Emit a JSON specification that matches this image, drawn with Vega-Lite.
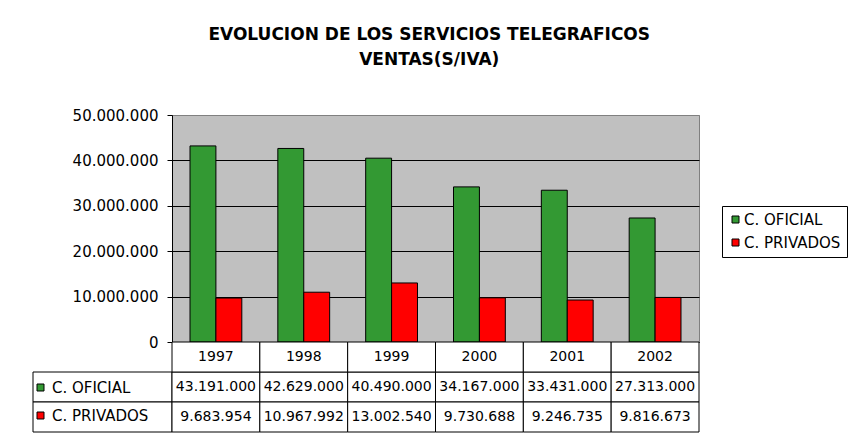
{
  "$schema": "https://vega.github.io/schema/vega-lite/v6.json",
  "background": "white",
  "padding": {"left": 32, "top": 25, "right": 0, "bottom": 0},
  "datasets": {
    "ventas": [
      {"year": "1997", "series": "C. OFICIAL", "value": 43191000},
      {"year": "1998", "series": "C. OFICIAL", "value": 42629000},
      {"year": "1999", "series": "C. OFICIAL", "value": 40490000},
      {"year": "2000", "series": "C. OFICIAL", "value": 34167000},
      {"year": "2001", "series": "C. OFICIAL", "value": 33431000},
      {"year": "2002", "series": "C. OFICIAL", "value": 27313000},
      {"year": "1997", "series": "C. PRIVADOS", "value": 9683954},
      {"year": "1998", "series": "C. PRIVADOS", "value": 10967992},
      {"year": "1999", "series": "C. PRIVADOS", "value": 13002540},
      {"year": "2000", "series": "C. PRIVADOS", "value": 9730688},
      {"year": "2001", "series": "C. PRIVADOS", "value": 9246735},
      {"year": "2002", "series": "C. PRIVADOS", "value": 9816673}
    ]
  },
  "title": {
    "text": ["EVOLUCION DE LOS SERVICIOS TELEGRAFICOS", "VENTAS(S/IVA)"],
    "font": "DejaVu Sans",
    "fontSize": 17,
    "fontWeight": "bold",
    "color": "black",
    "anchor": "middle",
    "dx": -11,
    "lineHeight": 25,
    "offset": 39
  },
  "columns": 2,
  "spacing": 0,
  "bounds": "flush",
  "resolve": {"legend": {"color": "independent"}},
  "concat": [
    {
      "width": 139,
      "height": 227,
      "data": {"values": [{}]},
      "view": {"stroke": null},
      "mark": {"type": "text", "text": ""}
    },
    {
      "width": 527,
      "height": 227,
      "data": {"name": "ventas"},
      "view": {"fill": "#C0C0C0", "stroke": "#808080"},
      "mark": {"type": "bar", "stroke": "black", "strokeWidth": 1},
      "encoding": {
        "x": {"field": "year", "type": "ordinal", "scale": {"paddingInner": 0.41, "paddingOuter": 0.205}, "axis": null},
        "xOffset": {"field": "series", "type": "nominal", "scale": {"domain": ["C. OFICIAL", "C. PRIVADOS"], "paddingInner": 0}},
        "y": {
          "field": "value",
          "type": "quantitative",
          "scale": {"domain": [0, 50000000], "nice": false},
          "axis": {
            "values": [0, 10000000, 20000000, 30000000, 40000000, 50000000],
            "format": ",d",
            "title": null,
            "grid": true,
            "gridColor": {"condition": {"test": "datum.value == 50000000", "value": "#808080"}, "value": "black"},
            "gridOpacity": 1,
            "domainColor": "black",
            "tickColor": "black",
            "tickSize": 5,
            "labelPadding": 9,
            "labelFont": "DejaVu Sans",
            "labelFontSize": 15,
            "labelColor": "black"
          }
        },
        "color": {
          "field": "series",
          "type": "nominal",
          "scale": {"domain": ["C. OFICIAL", "C. PRIVADOS"], "range": ["#339933", "#FF0000"]},
          "legend": {
            "title": null,
            "orient": "none",
            "legendX": 550,
            "legendY": 91,
            "strokeColor": "black",
            "fillColor": "white",
            "padding": 6,
            "rowPadding": 7,
            "labelOffset": 1,
            "labelFontSize": 15,
            "encode": {"symbols": {"update": {"stroke": {"value": "black"}, "strokeWidth": {"value": 1}}}}
          }
        }
      }
    },
    {
      "width": 139,
      "height": 90,
      "data": {"name": "ventas"},
      "transform": [{"filter": "datum.year == '1997'"}],
      "view": {"stroke": null},
      "encoding": {
        "y": {"field": "series", "type": "nominal", "scale": {"domain": ["hdr", "C. OFICIAL", "C. PRIVADOS"], "paddingInner": 0, "paddingOuter": 0}, "axis": null}
      },
      "layer": [
        {"mark": {"type": "rect", "fill": "white", "stroke": "black", "strokeWidth": 1}},
        {
          "mark": {"type": "text", "text": ""},
          "encoding": {
            "color": {
              "field": "series",
              "type": "nominal",
              "legend": {
                "title": null,
                "orient": "none",
                "legendX": 0,
                "legendY": 38,
                "padding": 0,
                "rowPadding": 12,
                "labelOffset": 4,
                "labelFontSize": 15,
                "encode": {"symbols": {"update": {"stroke": {"value": "black"}, "strokeWidth": {"value": 1}}}}
              }
            }
          }
        }
      ]
    },
    {
      "width": 527,
      "height": 90,
      "data": {"name": "ventas"},
      "view": {"stroke": null},
      "encoding": {
        "x": {"field": "year", "type": "ordinal", "scale": {"paddingInner": 0, "paddingOuter": 0}, "axis": null}
      },
      "layer": [
        {
          "mark": {"type": "rect", "fill": "white", "stroke": "black", "strokeWidth": 1},
          "encoding": {
            "y": {"field": "series", "type": "nominal", "scale": {"domain": ["hdr", "C. OFICIAL", "C. PRIVADOS"], "paddingInner": 0, "paddingOuter": 0}, "axis": null}
          }
        },
        {
          "mark": {"type": "text", "font": "DejaVu Sans", "fontSize": 14, "color": "black"},
          "encoding": {
            "y": {"field": "series", "type": "nominal"},
            "text": {"field": "value", "type": "quantitative", "format": ",d"}
          }
        },
        {
          "transform": [{"filter": "datum.series == 'C. OFICIAL'"}],
          "mark": {"type": "rect", "fill": "white", "stroke": "black", "strokeWidth": 1},
          "encoding": {"y": {"datum": "hdr", "type": "nominal"}}
        },
        {
          "transform": [{"filter": "datum.series == 'C. OFICIAL'"}],
          "mark": {"type": "text", "font": "DejaVu Sans", "fontSize": 14, "color": "black"},
          "encoding": {
            "y": {"datum": "hdr", "type": "nominal"},
            "text": {"field": "year", "type": "nominal"}
          }
        }
      ]
    }
  ],
  "config": {
    "font": "DejaVu Sans",
    "locale": {"number": {"decimal": ",", "thousands": ".", "grouping": [3], "currency": ["", ""]}},
    "legend": {
      "symbolType": "square",
      "symbolSize": 49,
      "symbolStrokeColor": "black",
      "symbolStrokeWidth": 1,
      "symbolOpacity": 1,
      "labelFont": "DejaVu Sans",
      "labelFontSize": 14,
      "labelColor": "black",
      "labelLimit": 0
    }
  }
}
